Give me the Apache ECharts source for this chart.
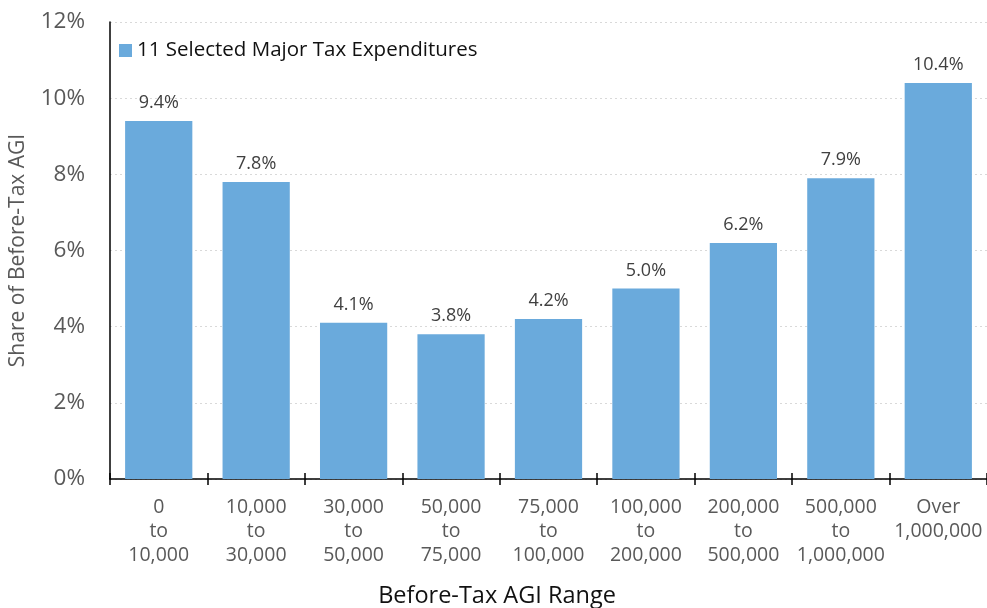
<!DOCTYPE html>
<html>
<head>
<meta charset="utf-8">
<script src="https://cdn.jsdelivr.net/npm/echarts@6/dist/echarts.min.js"></script>
<style>
  html, body { margin: 0; padding: 0; background: #fff; }
  #chart { width: 987px; height: 608px; }
</style>
</head>
<body>
<div id="chart"></div>
<script>
// AGI income brackets (dollars)
const categories = [
  '0\nto\n10,000',
  '10,000\nto\n30,000',
  '30,000\nto\n50,000',
  '50,000\nto\n75,000',
  '75,000\nto\n100,000',
  '100,000\nto\n200,000',
  '200,000\nto\n500,000',
  '500,000\nto\n1,000,000',
  'Over\n1,000,000'
];
// Benefit as percent of before-tax AGI
const shareValues = [9.4, 7.8, 4.1, 3.8, 4.2, 5.0, 6.2, 7.9, 10.4];
const seriesName = '11 Selected Major Tax Expenditures';
const yTicks = [0, 2, 4, 6, 8, 10, 12];

const FONT = '"Open Sans", Lato, sans-serif';
const chart = echarts.init(document.getElementById('chart'), null, { renderer: 'canvas' });

chart.setOption({
  animation: false,
  textStyle: { fontFamily: FONT },
  grid: { left: 109, right: 0, top: 22, bottom: 129, containLabel: false },
  legend: {
    left: 114, top: 35,
    itemWidth: 13, itemHeight: 13, itemGap: 6,
    icon: 'rect',
    textStyle: { fontFamily: FONT, fontSize: 20.5, color: '#111' },
    data: [seriesName]
  },
  xAxis: [{
    type: 'category',
    data: categories,
    axisLine: { show: true, lineStyle: { color: '#000', width: 1.5 } },
    axisTick: { show: true, length: 6, lineStyle: { color: '#000', width: 1.5 } },
    axisLabel: { fontFamily: FONT, fontSize: 19.5, color: '#595959', lineHeight: 24, margin: 16, interval: 0 },
    splitLine: { show: false }
  }, {
    type: 'category',
    data: categories,
    position: 'bottom',
    axisLine: { show: false },
    axisTick: { show: true, inside: true, length: 6, lineStyle: { color: '#000', width: 1.5 } },
    axisLabel: { show: false }
  }],
  yAxis: {
    type: 'value',
    min: yTicks[0], max: yTicks[yTicks.length - 1], interval: 2,
    name: 'Share of Before-Tax AGI',
    nameLocation: 'middle',
    nameGap: 81,
    nameTextStyle: { fontFamily: FONT, fontSize: 21, color: '#595959' },
    axisLine: { show: true, lineStyle: { color: '#000', width: 1.5 } },
    axisTick: { show: false },
    axisLabel: { fontFamily: FONT, fontSize: 22.5, color: '#595959', margin: 25, formatter: v => v + '%' },
    splitLine: { show: true, lineStyle: { color: '#d9d9d9', type: [2, 3], width: 1 } }
  },
  graphic: [{
    type: 'text',
    style: {
      text: 'Before-Tax AGI Range',
      x: 497, y: 596,
      fontFamily: FONT, fontSize: 23.5, fill: '#111',
      align: 'center', verticalAlign: 'middle'
    }
  }],
  series: [{
    name: seriesName,
    type: 'bar',
    data: shareValues,
    barCategoryGap: '31%',
    itemStyle: { color: '#6aaadc' },
    label: {
      show: true, position: 'top', distance: 9,
      fontFamily: FONT, fontSize: 18, color: '#404040',
      formatter: p => p.value.toFixed(1) + '%'
    }
  }]
});
</script>
</body>
</html>
